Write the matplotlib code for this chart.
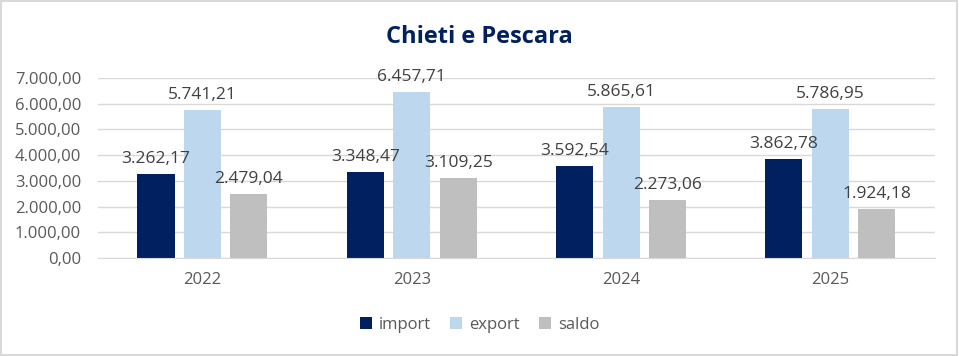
import matplotlib.pyplot as plt
import numpy as np
from matplotlib.patches import Rectangle

years = ["2022", "2023", "2024", "2025"]
import_values = [3262.17, 3348.47, 3592.54, 3862.78]
export_values = [5741.21, 6457.71, 5865.61, 5786.95]
saldo_values = [2479.04, 3109.25, 2273.06, 1924.18]

series = [
    ("import", import_values, "#002060"),
    ("export", export_values, "#BDD7EE"),
    ("saldo", saldo_values, "#BFBFBF"),
]


def it_format(value: float) -> str:
    text = f"{value:,.2f}"
    return text.replace(",", "X").replace(".", ",").replace("X", ".")


plt.rcParams["font.family"] = ["Open Sans", "DejaVu Sans"]

figure = plt.figure(figsize=(9.59, 3.56), dpi=100)
axis = figure.add_axes([0.102, 0.275, 0.873, 0.506])

x = np.arange(len(years))
bar_width = 0.177
step = 0.222

for index, (name, values, color) in enumerate(series):
    positions = x + (index - 1) * step
    bars = axis.bar(positions, values, width=bar_width, color=color, label=name, zorder=2)
    for bar, value in zip(bars, values):
        axis.annotate(
            it_format(value),
            xy=(bar.get_x() + bar.get_width() / 2, bar.get_height()),
            xytext=(0, 5),
            textcoords="offset points",
            ha="center",
            va="bottom",
            fontsize=12.5,
            color="#404040",
        )

axis.set_xlim(-0.5, len(years) - 0.5)
axis.set_ylim(0, 7000)
axis.set_yticks(np.arange(0, 7001, 1000))
axis.set_yticklabels([it_format(v) for v in np.arange(0, 7001, 1000)])
axis.set_xticks(x)
axis.set_xticklabels(years)
axis.tick_params(axis="both", length=0, labelsize=12, colors="#595959")
axis.tick_params(axis="y", pad=12)
axis.tick_params(axis="x", pad=10)
axis.grid(axis="y", color="#D9D9D9", linewidth=1, zorder=0)
for side in ["top", "right", "left"]:
    axis.spines[side].set_visible(False)
axis.spines["bottom"].set_color("#D9D9D9")

figure.text(0.5, 0.895, "Chieti e Pescara", ha="center", va="center",
            fontsize=17, fontweight="bold", color="#002060")

figure.legend(
    loc="center",
    bbox_to_anchor=(0.5, 0.087),
    ncol=3,
    frameon=False,
    fontsize=12,
    handlelength=0.7,
    handleheight=0.7,
    handletextpad=0.4,
    columnspacing=1.2,
    labelcolor="#595959",
)

figure.patches.append(Rectangle((0.001, 0.002), 0.997, 0.995, transform=figure.transFigure,
                                fill=False, edgecolor="#D9D9D9", linewidth=1.5))

figure.savefig("out.png", dpi=100)
